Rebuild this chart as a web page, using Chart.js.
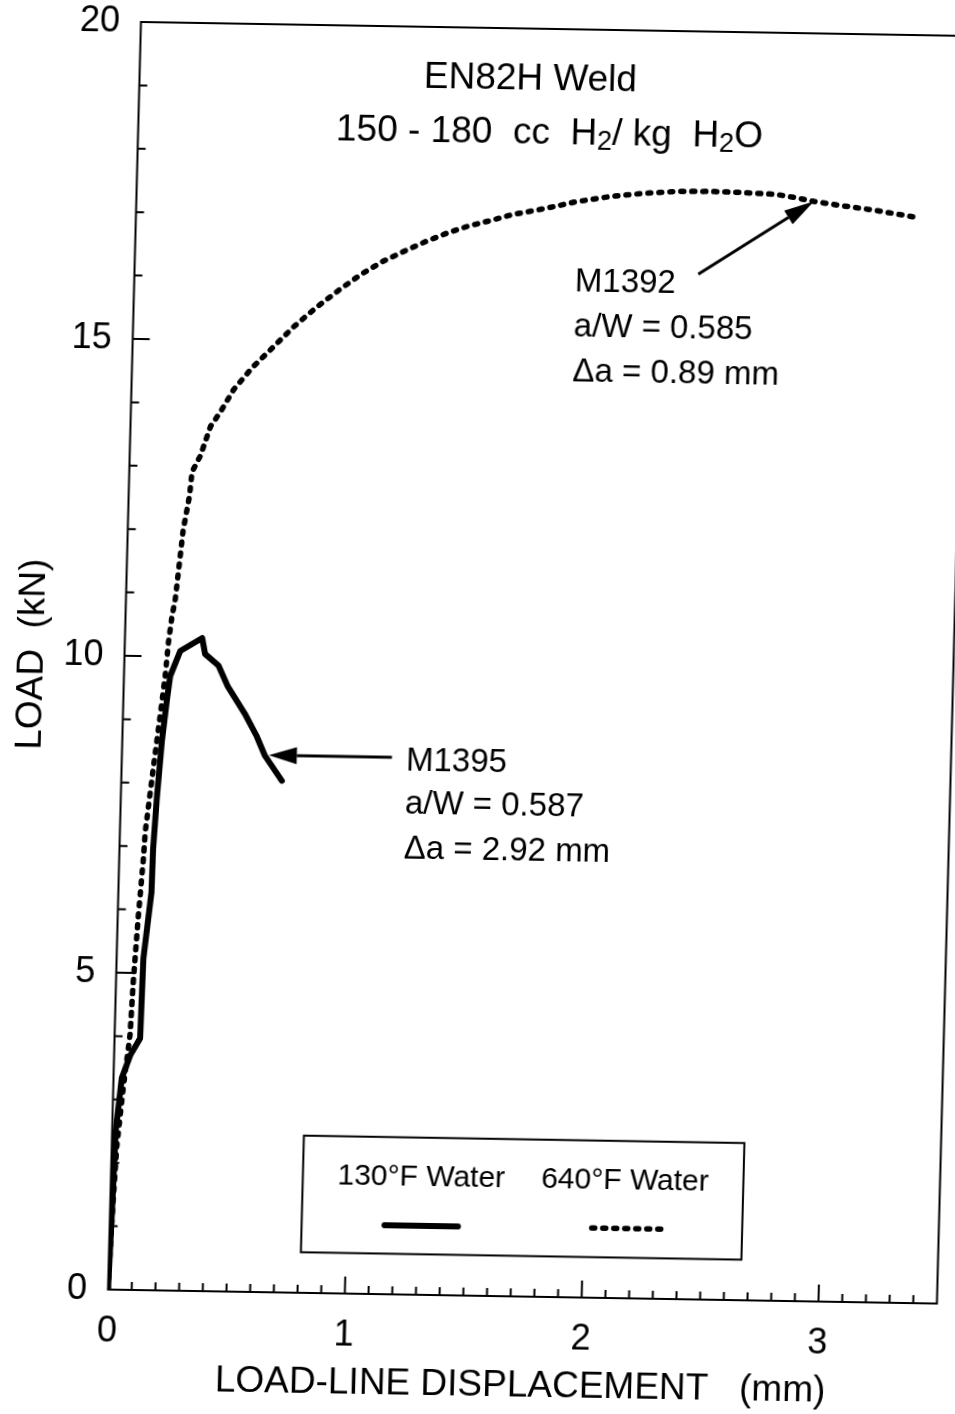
<!DOCTYPE html>
<html>
<head>
<meta charset="utf-8">
<script src="https://cdn.jsdelivr.net/npm/chart.js@4.4.0/dist/chart.umd.min.js"></script>
<style>
	html, body { margin: 0; padding: 0; background: #fff; overflow: hidden; }
	#wrap {
		position: absolute; left: 0; top: 0; width: 955px; height: 1414px;
		transform-origin: 539px 663px;
		transform: matrix(1, 0.0169, -0.026, 1, 0, 0);
	}
</style>
</head>
<body>
<div id="wrap"><canvas id="loadChart" width="955" height="1414"></canvas></div>
<script>
// M1395, 130°F water (solid)
const m1395Disp = [0, 0.008, 0.015, 0.035, 0.068, 0.108, 0.113, 0.14, 0.142, 0.152, 0.167, 0.184, 0.195, 0.235, 0.326, 0.34, 0.398, 0.44, 0.514, 0.565, 0.604, 0.678];
const m1395Load = [0, 1.2, 2.5, 3.34, 3.7, 3.97, 5.23, 6.28, 6.96, 7.75, 8.65, 9.32, 9.69, 10.09, 10.3, 10.05, 9.87, 9.54, 9.12, 8.78, 8.46, 8.07];

// M1392, 640°F water (dotted)
const m1392Disp = [0, 0.008, 0.021, 0.042, 0.065, 0.073, 0.087, 0.102, 0.107, 0.135, 0.157, 0.174, 0.184, 0.196, 0.208, 0.234, 0.257, 0.265, 0.298, 0.338, 0.378, 0.432, 0.508, 0.597, 0.68, 0.77, 0.867, 0.957, 1.048, 1.139, 1.23, 1.321, 1.405, 1.496, 1.587, 1.679, 1.778, 1.855, 1.996, 2.137, 2.277, 2.42, 2.561, 2.702, 2.787, 2.86, 2.957, 3.13, 3.3];
const m1392Load = [0, 1.02, 2.24, 3.18, 4.02, 4.87, 5.9, 6.8, 7.23, 8.27, 9.06, 9.69, 10.22, 10.63, 10.9, 12.0, 12.54, 12.92, 13.17, 13.64, 13.87, 14.23, 14.58, 14.92, 15.24, 15.54, 15.83, 16.08, 16.29, 16.46, 16.62, 16.76, 16.87, 16.96, 17.06, 17.13, 17.21, 17.28, 17.37, 17.43, 17.47, 17.48, 17.47, 17.45, 17.4, 17.35, 17.3, 17.22, 17.12];

const xTickValues = [0, 1, 2, 3];
const yTickValues = [0, 5, 10, 15, 20];
const xMinorStep = 0.1;
const yMinorStep = 1;

const FONT = '"Liberation Sans", Arial, sans-serif';

const toPoints = (xs, ys) => xs.map((x, i) => ({ x: x, y: ys[i] }));

const pos = (chart, x, y) => [chart.scales.x.getPixelForValue(x), chart.scales.y.getPixelForValue(y)];

const drawArrow = (ctx, from, to, headLen, headWidth) => {
	const ang = Math.atan2(to[1] - from[1], to[0] - from[0]);
	const bx = to[0] - headLen * Math.cos(ang);
	const by = to[1] - headLen * Math.sin(ang);
	ctx.beginPath();
	ctx.moveTo(from[0], from[1]);
	ctx.lineTo(bx, by);
	ctx.stroke();
	ctx.beginPath();
	ctx.moveTo(to[0], to[1]);
	ctx.lineTo(bx + headWidth / 2 * Math.sin(ang), by - headWidth / 2 * Math.cos(ang));
	ctx.lineTo(bx - headWidth / 2 * Math.sin(ang), by + headWidth / 2 * Math.cos(ang));
	ctx.closePath();
	ctx.fill();
};

// text pieces with optional subscripts, left aligned
const drawRich = (ctx, parts, x, y, size) => {
	let cx = x;
	parts.forEach(([txt, sub]) => {
		if (sub) {
			ctx.font = `${Math.round(size * 0.72)}px ${FONT}`;
			ctx.fillText(txt, cx, y + size * 0.22);
		} else {
			ctx.font = `${size}px ${FONT}`;
			ctx.fillText(txt, cx, y);
		}
		cx += ctx.measureText(txt).width;
	});
};

const frameAndNotes = {
	id: 'frameAndNotes',
	afterDraw(chart) {
		const ctx = chart.ctx;
		const { left, right, top, bottom } = chart.chartArea;
		const xs = chart.scales.x;
		const ys = chart.scales.y;
		ctx.save();
		ctx.strokeStyle = '#000';
		ctx.fillStyle = '#000';

		// plot frame
		ctx.lineWidth = 2;
		ctx.strokeRect(left, top, right - left, bottom - top);

		// inward tick marks
		ctx.beginPath();
		for (let i = 1; i * xMinorStep < xs.max - 1e-9; i++) {
			const v = i * xMinorStep;
			const major = Math.abs(v - Math.round(v)) < 1e-6;
			const p = xs.getPixelForValue(v);
			ctx.moveTo(p, bottom);
			ctx.lineTo(p, bottom - (major ? 17 : 8));
		}
		for (let i = 1; i * yMinorStep < ys.max; i++) {
			const v = i * yMinorStep;
			const major = v % 5 === 0;
			const p = ys.getPixelForValue(v);
			ctx.moveTo(left, p);
			ctx.lineTo(left + (major ? 17 : 8), p);
		}
		ctx.stroke();

		ctx.textBaseline = 'middle';
		ctx.textAlign = 'left';

		// heading
		let p = pos(chart, 1.2, 19.2);
		drawRich(ctx, [['EN82H Weld']], p[0], p[1], 37);
		p = pos(chart, 0.835, 18.35);
		drawRich(ctx, [['150 - 180  cc  H'], ['2', true], ['/ kg  H'], ['2', true], ['O']], p[0], p[1], 37);

		// specimen notes
		ctx.font = `33px ${FONT}`;
		[['M1392', 16.01], ['a/W = 0.585', 15.3], ['Δa = 0.89 mm', 14.59]].forEach(([t, v]) => {
			const q = pos(chart, 1.86, v);
			ctx.fillText(t, q[0], q[1]);
		});
		[['M1395', 8.41], ['a/W = 0.587', 7.73], ['Δa = 2.92 mm', 7.02]].forEach(([t, v]) => {
			const q = pos(chart, 1.2, v);
			ctx.fillText(t, q[0], q[1]);
		});

		ctx.lineWidth = 3;
		drawArrow(ctx, pos(chart, 2.38, 16.17), pos(chart, 2.86, 17.35), 30, 16);
		drawArrow(ctx, pos(chart, 1.14, 8.47), pos(chart, 0.62, 8.47), 28, 17);

		// legend box
		const b0 = pos(chart, 0.81, 2.48);
		const b1 = pos(chart, 2.67, 0.64);
		ctx.lineWidth = 2;
		ctx.strokeRect(b0[0], b0[1], b1[0] - b0[0], b1[1] - b0[1]);
		ctx.font = `30px ${FONT}`;
		ctx.textAlign = 'center';
		let q = pos(chart, 1.31, 1.85);
		ctx.fillText('130°F Water', q[0], q[1]);
		q = pos(chart, 2.17, 1.85);
		ctx.fillText('640°F Water', q[0], q[1]);

		ctx.lineCap = 'round';
		ctx.lineWidth = 6;
		let s0 = pos(chart, 1.16, 1.09);
		let s1 = pos(chart, 1.47, 1.09);
		ctx.beginPath();
		ctx.moveTo(s0[0], s0[1]);
		ctx.lineTo(s1[0], s1[1]);
		ctx.stroke();

		ctx.lineWidth = 5.5;
		ctx.setLineDash([3, 8]);
		s0 = pos(chart, 2.035, 1.1);
		s1 = pos(chart, 2.345, 1.1);
		ctx.beginPath();
		ctx.moveTo(s0[0], s0[1]);
		ctx.lineTo(s1[0], s1[1]);
		ctx.stroke();

		ctx.restore();
	},
};

const ctx = document.getElementById('loadChart').getContext('2d');
const loadChart = new Chart(ctx, {
	type: 'line',
	data: {
		datasets: [
			{
				label: '130°F Water',
				data: toPoints(m1395Disp, m1395Load),
				borderColor: '#000',
				borderWidth: 6,
				borderJoinStyle: 'round',
				borderCapStyle: 'round',
				pointRadius: 0,
				tension: 0,
			},
			{
				label: '640°F Water',
				data: toPoints(m1392Disp, m1392Load),
				borderColor: '#000',
				borderWidth: 5.5,
				borderDash: [3, 8],
				borderCapStyle: 'round',
				pointRadius: 0,
				tension: 0,
			},
		],
	},
	options: {
		responsive: false,
		animation: false,
		devicePixelRatio: 1,
		layout: { padding: { top: 29, right: 1.5, left: 0, bottom: 0 } },
		plugins: { legend: { display: false }, tooltip: { enabled: false } },
		scales: {
			x: {
				type: 'linear',
				min: 0,
				max: 3.5,
				border: { display: false },
				grid: { display: false, drawTicks: false },
				afterBuildTicks: (s) => { s.ticks = xTickValues.map((v) => ({ value: v })); },
				afterFit: (s) => { s.height = 117; },
				ticks: { padding: 20, color: '#000', font: { family: FONT, size: 36 }, maxRotation: 0 },
				title: {
					display: true,
					text: 'LOAD-LINE DISPLACEMENT   (mm)',
					color: '#000',
					font: { family: FONT, size: 37 },
					padding: { top: 0, bottom: 5 },
				},
			},
			y: {
				type: 'linear',
				min: 0,
				max: 20,
				border: { display: false },
				grid: { display: false, drawTicks: false },
				afterBuildTicks: (s) => { s.ticks = yTickValues.map((v) => ({ value: v })); },
				afterFit: (s) => {
					s.width = 124.5;
					// keep the label overhang from pushing the plot top down
					s.paddingTop = 0;
					s.paddingBottom = 0;
				},
				ticks: { padding: 21, color: '#000', font: { family: FONT, size: 36 } },
				title: {
					display: true,
					text: 'LOAD  (kN)',
					color: '#000',
					font: { family: FONT, size: 37 },
					padding: { top: 11, bottom: 0 },
				},
			},
		},
	},
	plugins: [frameAndNotes],
});
</script>
</body>
</html>
